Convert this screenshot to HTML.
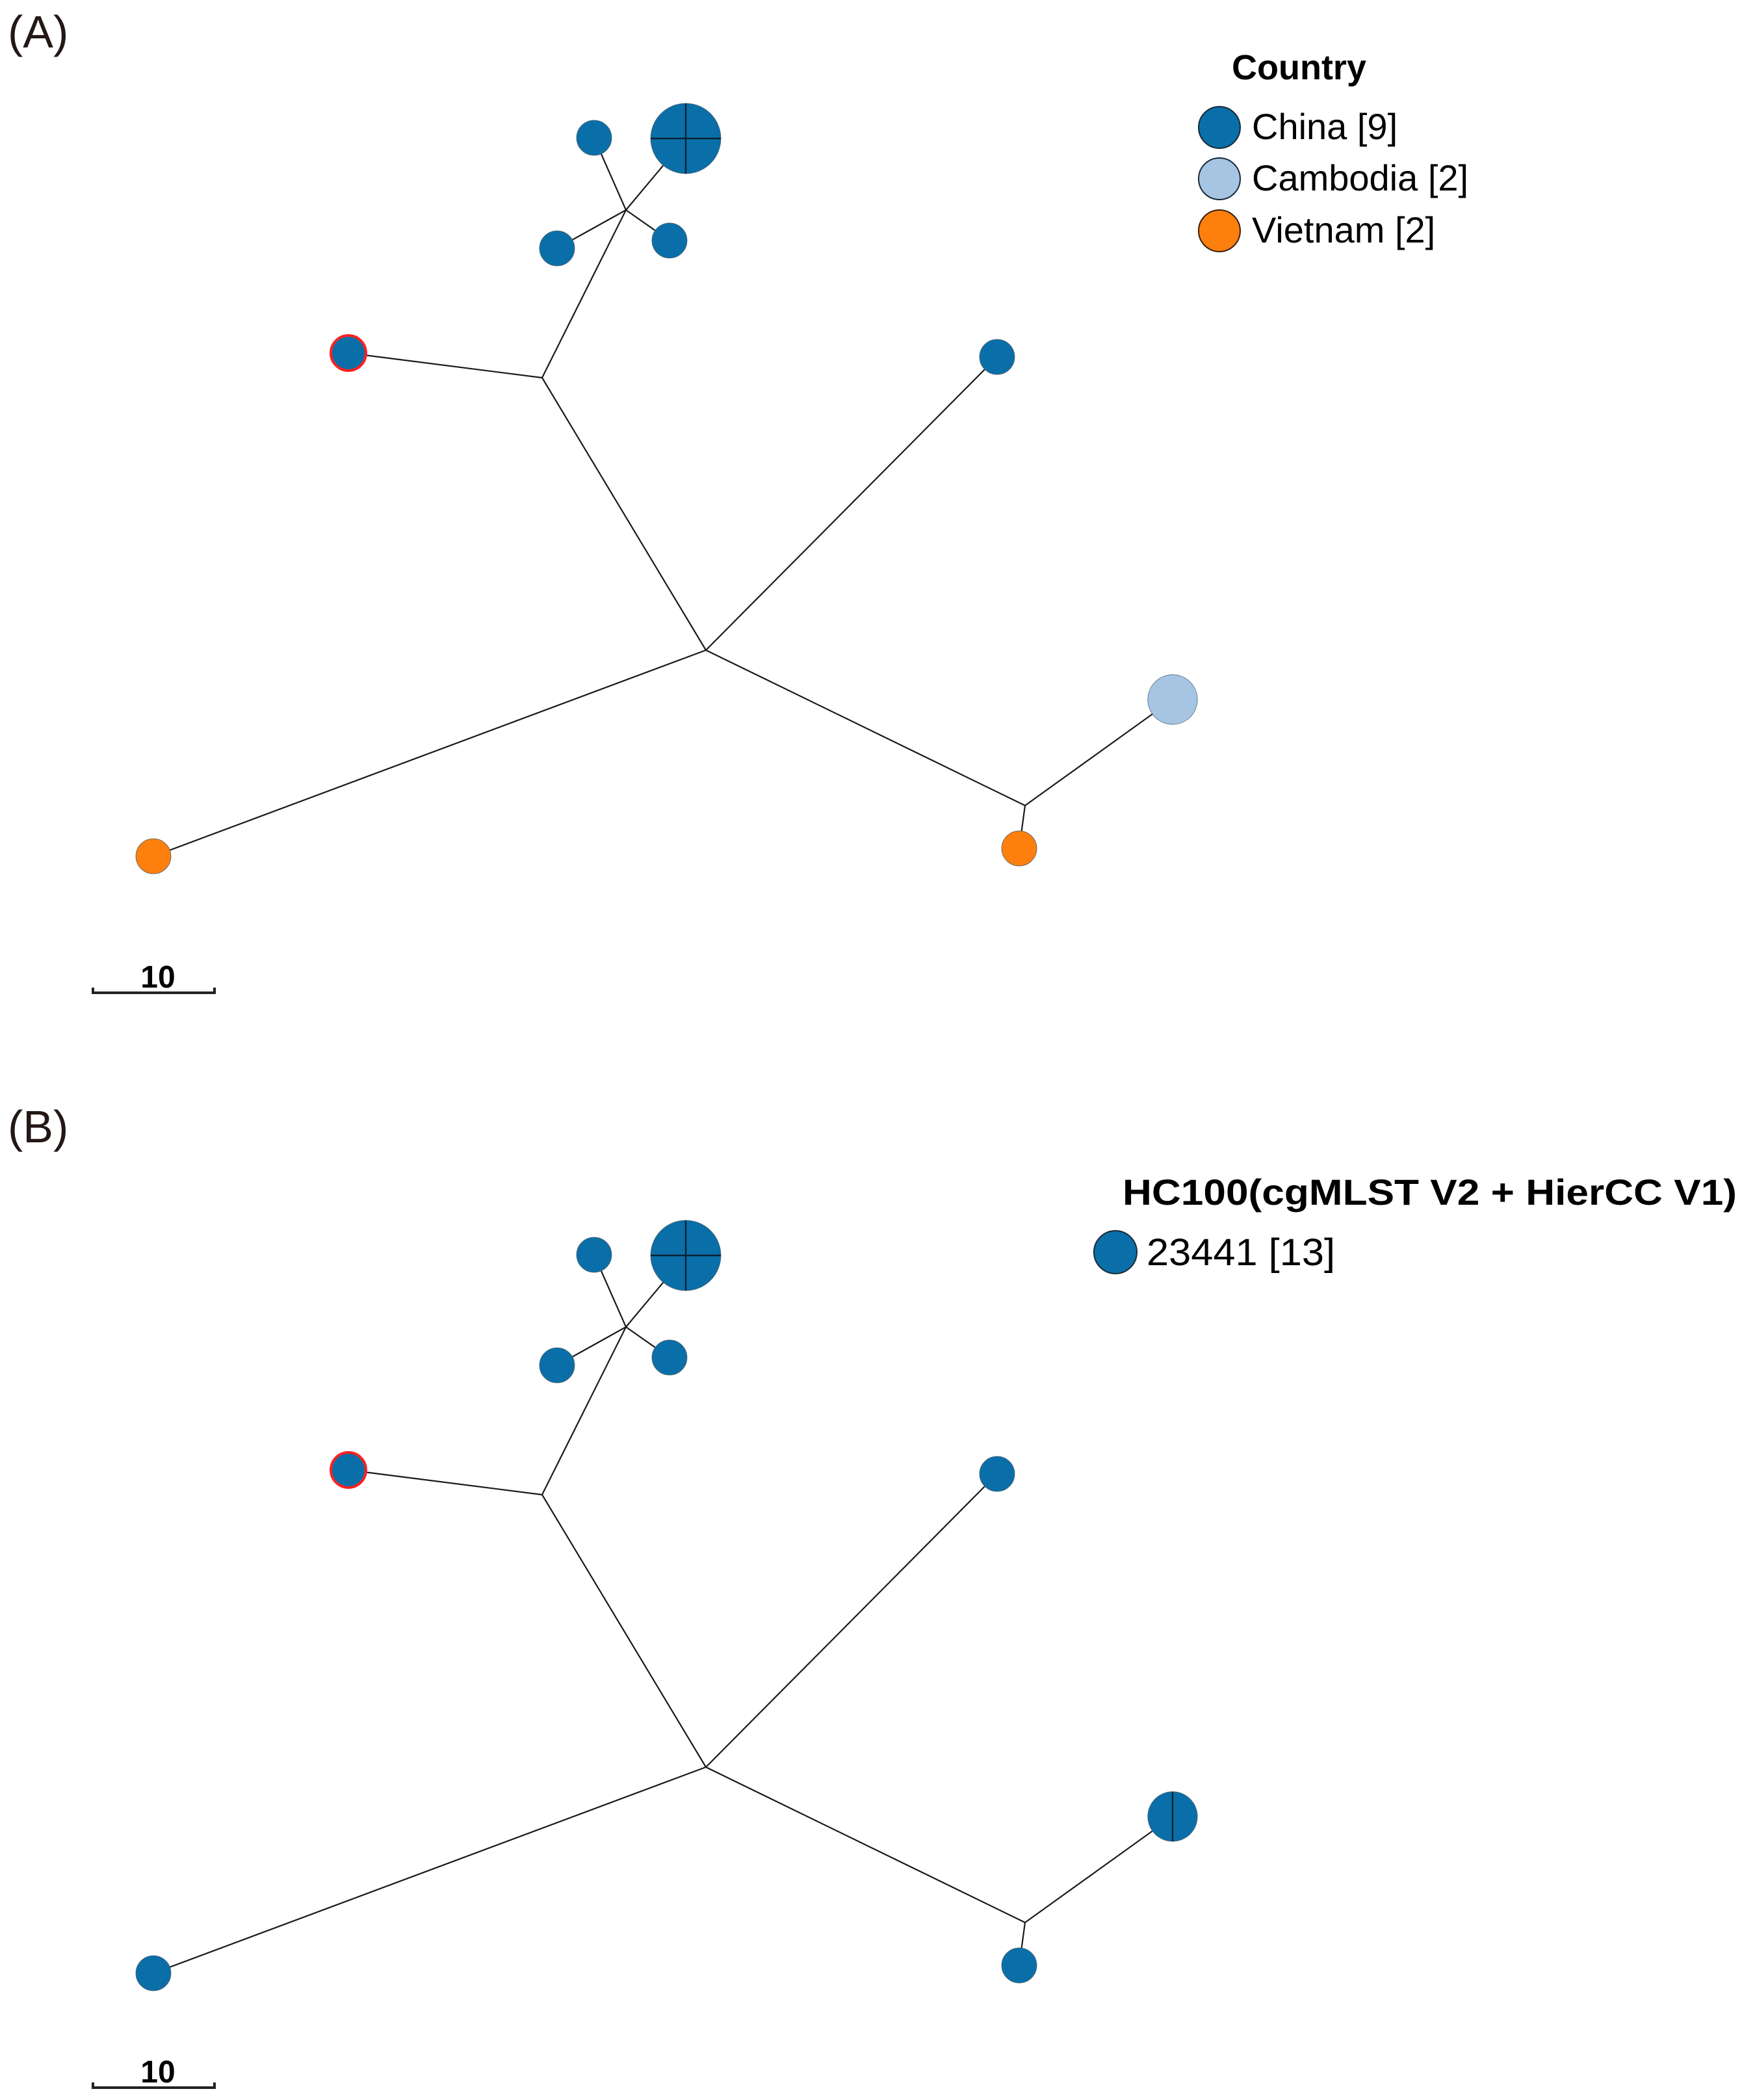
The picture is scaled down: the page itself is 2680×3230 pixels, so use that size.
<!DOCTYPE html>
<html>
<head>
<meta charset="utf-8">
<style>
html,body{margin:0;padding:0;background:#fff;}
svg{display:block;}
text{font-family:"Liberation Sans",Arial,sans-serif;}
</style>
</head>
<body>
<svg id="fig" width="2680" height="3230" viewBox="0 0 2680 3230" xmlns="http://www.w3.org/2000/svg">
  <rect x="0" y="0" width="2680" height="3230" fill="#fff"/>

  <text x="12" y="73" font-size="70" fill="#231815">(A)</text>
  <text x="1895" y="122" font-size="54" font-weight="bold" fill="#000">Country</text>
  <g>
    <circle cx="1876" cy="196" r="32" fill="#0a6fa8" stroke="#1a2a3a" stroke-width="2"/>
    <text x="1926" y="214" font-size="56" fill="#000">China [9]</text>
  </g>
  <g>
    <circle cx="1876" cy="275" r="32" fill="#a6c5e3" stroke="#1a2a3a" stroke-width="2"/>
    <text x="1926" y="293" font-size="56" fill="#000">Cambodia [2]</text>
  </g>
  <g>
    <circle cx="1876" cy="355" r="32" fill="#fd7f0d" stroke="#3a2010" stroke-width="2"/>
    <text x="1926" y="373" font-size="56" fill="#000">Vietnam [2]</text>
  </g>
  <g>
    <path d="M143 1519 V1527 H330 V1519" fill="none" stroke="#222" stroke-width="4"/>
    <text x="243" y="1519" font-size="48" font-weight="bold" text-anchor="middle" fill="#000">10</text>
  </g>

  <text x="12" y="1757" font-size="70" fill="#231815">(B)</text>
  <text x="1727" y="1853" font-size="56" font-weight="bold" fill="#000" textLength="945" lengthAdjust="spacingAndGlyphs">HC100(cgMLST V2 + HierCC V1)</text>
  <g>
    <ellipse cx="1716" cy="1926" rx="33" ry="33" fill="#0a6fa8" stroke="#1a2a3a" stroke-width="2"/>
    <text x="1764" y="1946" font-size="58" fill="#000" textLength="290" lengthAdjust="spacingAndGlyphs">23441 [13]</text>
  </g>
  <g>
    <path d="M143 3203 V3211 H330 V3203" fill="none" stroke="#222" stroke-width="4"/>
    <text x="243" y="3203" font-size="48" font-weight="bold" text-anchor="middle" fill="#000">10</text>
  </g>

  <g id="treeA"></g>
  <g id="treeB"></g>
</svg>
<script>
const nodeIds = ["big","topSmall","leftSmall","rightSmall","hub","red","j1","center","rightChina","orangeLeft","j2","cambodia","orangeRight"];
const nodeX   = [1055, 914, 857, 1030, 963, 536, 834, 1086, 1534, 236, 1577, 1804, 1568];
const nodeY   = [ 213, 212, 382,  370, 323, 543, 581, 1000,  549,1317, 1239, 1076, 1305];
const nodeCount = [4, 1, 1, 1, 0, 1, 0, 0, 1, 1, 0, 2, 1];
const splitA = [4, 1, 1, 1, 0, 1, 0, 0, 1, 1, 0, 1, 1];
const splitB = [4, 1, 1, 1, 0, 1, 0, 0, 1, 1, 0, 2, 1];
const countryA = ["china","china","china","china","","china","","","china","vietnam","","cambodia","vietnam"];
const hcB      = ["23441","23441","23441","23441","","23441","","","23441","23441","","23441","23441"];
const highlight = ["red"];
const edgeFrom = ["big","topSmall","leftSmall","rightSmall","hub","red","j1","rightChina","orangeLeft","center","j2","j2"];
const edgeTo   = ["hub","hub","hub","hub","j1","j1","center","center","center","j2","cambodia","orangeRight"];
const countryColors = {china:"#0a6fa8", cambodia:"#a6c5e3", vietnam:"#fd7f0d"};
const hcColors = {"23441":"#0a6fa8"};
const panelOffset = [0, 1718];

const NS = "http://www.w3.org/2000/svg";
function radius(c){ return c <= 1 ? 27 : 27 * Math.sqrt(c); }
function idx(id){ return nodeIds.indexOf(id); }

function drawTree(g, dy, groups, colors, splits, tag){
  edgeFrom.forEach((f,i)=>{
    const a = idx(f), b = idx(edgeTo[i]);
    const ln = document.createElementNS(NS,"line");
    ln.setAttribute("x1", nodeX[a]); ln.setAttribute("y1", nodeY[a]+dy);
    ln.setAttribute("x2", nodeX[b]); ln.setAttribute("y2", nodeY[b]+dy);
    ln.setAttribute("stroke","#1a1a1a"); ln.setAttribute("stroke-width","2.2");
    
    
    g.appendChild(ln);
  });
  nodeIds.forEach((id,i)=>{
    const c = nodeCount[i];
    if(c === 0) return;
    const r = radius(c), cx = nodeX[i], cy = nodeY[i]+dy;
    const ng = document.createElementNS(NS,"g");
    
    
    const circ = document.createElementNS(NS,"circle");
    circ.setAttribute("cx",cx); circ.setAttribute("cy",cy); circ.setAttribute("r",r);
    circ.setAttribute("fill", colors[groups[i]]);
    const hl = highlight.includes(id);
    circ.setAttribute("stroke", hl ? "#ff2020" : "#50606e");
    circ.setAttribute("stroke-width", hl ? "4" : "0.8");
    ng.appendChild(circ);
    const s = splits[i];
    if(s >= 2){
      const v = document.createElementNS(NS,"line");
      v.setAttribute("x1",cx); v.setAttribute("y1",cy-r); v.setAttribute("x2",cx); v.setAttribute("y2",cy+r);
      v.setAttribute("stroke","#0b2236"); v.setAttribute("stroke-width","2.5");
      ng.appendChild(v);
    }
    if(s >= 4){
      const h = document.createElementNS(NS,"line");
      h.setAttribute("x1",cx-r); h.setAttribute("y1",cy); h.setAttribute("x2",cx+r); h.setAttribute("y2",cy);
      h.setAttribute("stroke","#0b2236"); h.setAttribute("stroke-width","2.5");
      ng.appendChild(h);
    }
    g.appendChild(ng);
  });
}
drawTree(document.getElementById("treeA"), panelOffset[0], countryA, countryColors, splitA, "a");
drawTree(document.getElementById("treeB"), panelOffset[1], hcB, hcColors, splitB, "b");
</script>
</body>
</html>
